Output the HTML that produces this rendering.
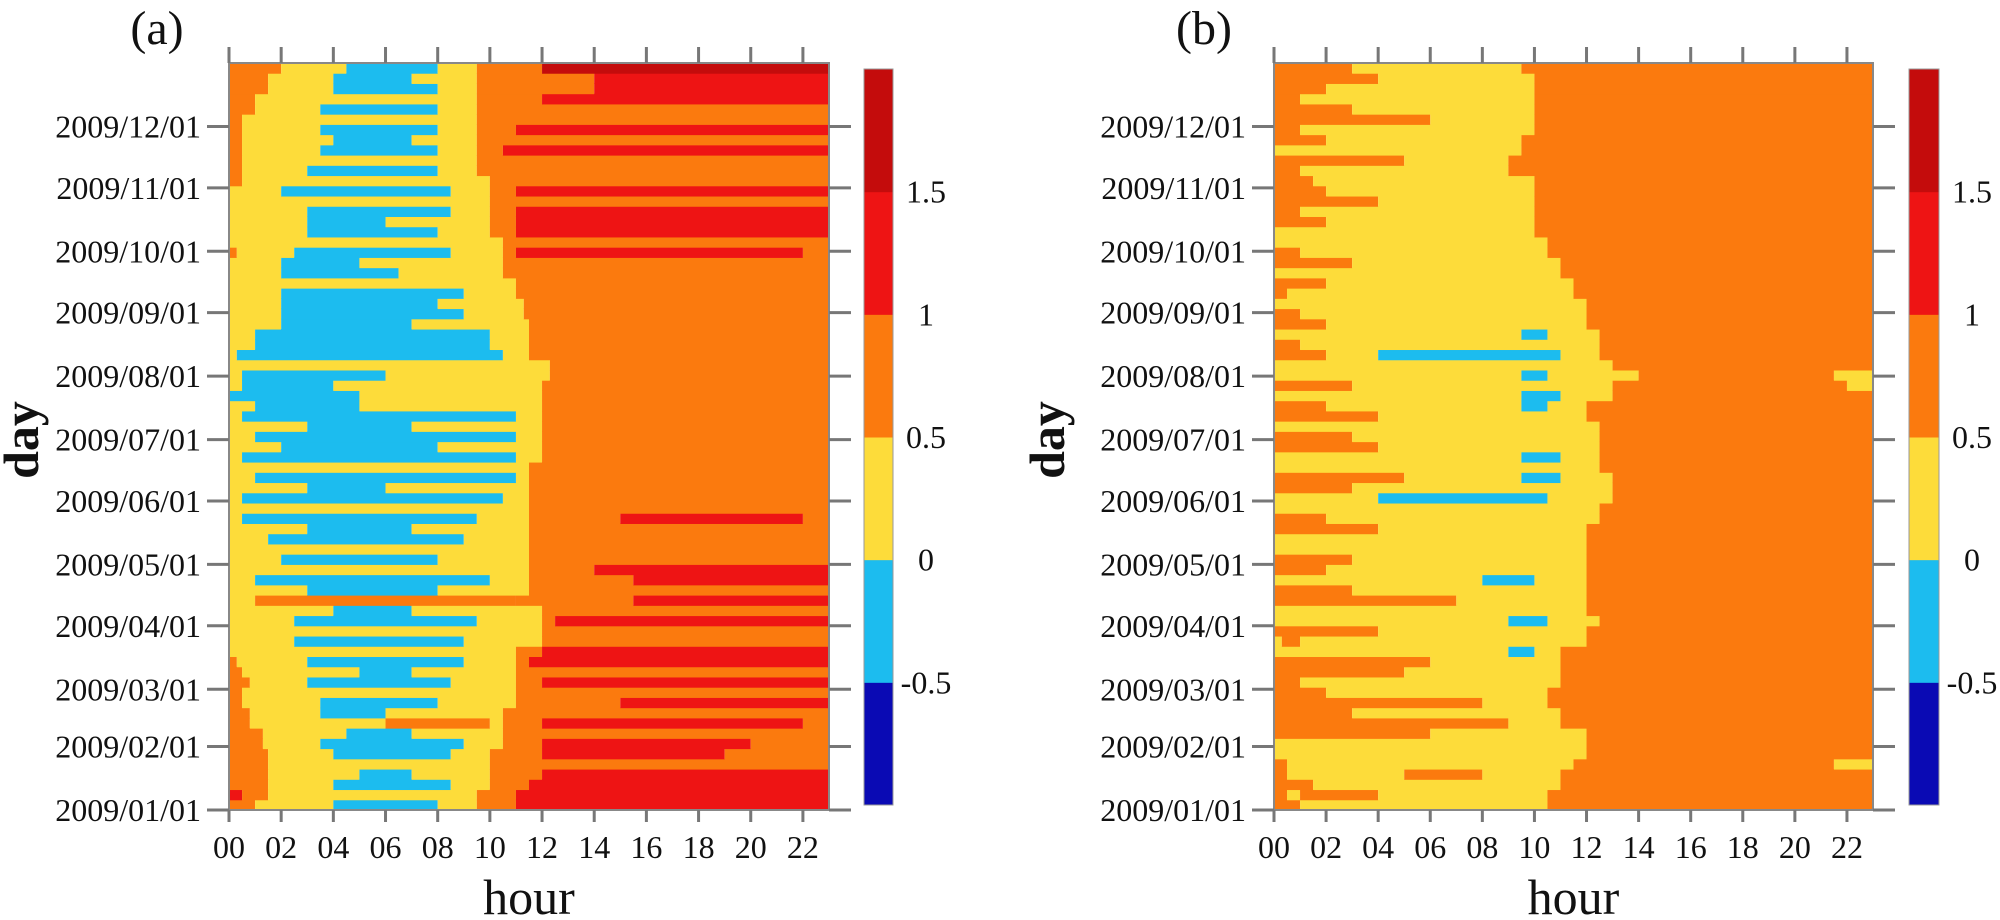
<!DOCTYPE html>
<html><head><meta charset="utf-8"><style>
html,body{margin:0;padding:0;background:#fff;}
svg{display:block;font-family:"Liberation Serif",serif;}
</style></head><body>
<svg id="chart" width="2000" height="920" viewBox="0 0 2000 920"></svg>
<script>
const classColors = ["#0a0ab4","#1cbcef","#fddc3a","#fb7a0e","#ee1414","#c40c0c"];
const levelLabels = ["-0.5","0","0.5","1","1.5"];
const monthLabels = ["2009/01/01","2009/02/01","2009/03/01","2009/04/01","2009/05/01","2009/06/01","2009/07/01","2009/08/01","2009/09/01","2009/10/01","2009/11/01","2009/12/01"];
const monthStartDays = [0,31,59,90,120,151,181,212,243,273,304,334];
const hourLabels = ["00","02","04","06","08","10","12","14","16","18","20","22"];
const rowDays = 5;
// each row: "class:endHour" segments, rows from Jan 1 upward in 5-day bins
const rowsA = [
"3:1,2:4,1:8,2:9.5,3:11,4:23",
"4:0.5,3:1.5,2:9.5,3:11,4:23",
"3:1.5,2:4,1:8.5,2:10,3:11.5,4:23",
"3:1.5,2:5,1:7,2:10,3:12,4:23",
"3:1.5,2:10,3:23",
"3:1.5,2:4,1:8.5,2:10,3:12,4:19,3:23",
"3:1.3,2:3.5,1:9,2:10.5,3:12,4:20,3:23",
"3:1.3,2:4.5,1:7,2:10.5,3:23",
"3:0.8,2:6,3:10,2:10.5,3:12,4:22,3:23",
"3:0.8,2:3.5,1:6,2:10.5,3:23",
"3:0.5,2:3.5,1:8,2:11,3:15,4:23",
"3:0.5,2:11,3:23",
"3:0.8,2:3,1:8.5,2:11,3:12,4:23",
"3:0.5,2:5,1:7,2:11,3:23",
"3:0.3,2:3,1:9,2:11,3:11.5,4:23",
"2:11,3:12,4:23",
"2:2.5,1:9,2:12,3:23",
"2:12,3:23",
"2:2.5,1:9.5,2:12,3:12.5,4:23",
"2:4,1:7,2:12,3:23",
"2:1,3:11,3:15.5,4:23",
"2:3,1:8,2:11.5,3:23",
"2:1,1:10,2:11.5,3:15.5,4:23",
"2:11.5,3:14,4:23",
"2:2,1:8,2:11.5,3:23",
"2:11.5,3:23",
"2:1.5,1:9,2:11.5,3:23",
"2:3,1:7,2:11.5,3:23",
"2:0.5,1:9.5,2:11.5,3:15,4:22,3:23",
"2:11.5,3:23",
"2:0.5,1:10.5,2:11.5,3:23",
"2:3,1:6,2:11.5,3:23",
"2:1,1:11,2:11.5,3:23",
"2:11.5,3:23",
"2:0.5,1:11,2:12,3:23",
"2:2,1:8,2:12,3:23",
"2:1,1:11,2:12,3:23",
"2:3,1:7,2:12,3:23",
"2:0.5,1:11,2:12,3:23",
"2:1,1:5,2:12,3:23",
"1:5,2:12,3:23",
"2:0.5,1:4,2:12,3:23",
"2:0.5,1:6,2:12.3,3:23",
"2:12.3,3:23",
"2:0.3,1:10.5,2:11.5,3:23",
"2:1,1:10,2:11.5,3:23",
"2:1,1:10,2:11.5,3:23",
"2:2,1:7,2:11.5,3:23",
"2:2,1:9,2:11.3,3:23",
"2:2,1:8,2:11.3,3:23",
"2:2,1:9,2:11,3:23",
"2:11,3:23",
"2:2,1:6.5,2:10.5,3:23",
"2:2,1:5,2:10.5,3:23",
"3:0.3,2:2.5,1:8.5,2:10.5,3:11,4:22,3:23",
"2:10.5,3:23",
"2:3,1:8,2:10,3:11,4:23",
"2:3,1:6,2:10,3:11,4:23",
"2:3,1:8.5,2:10,3:11,4:23",
"2:10,3:23",
"2:2,1:8.5,2:10,3:11,4:23",
"3:0.5,2:10,3:23",
"3:0.5,2:3,1:8,2:9.5,3:23",
"3:0.5,2:9.5,3:23",
"3:0.5,2:3.5,1:8,2:9.5,3:10.5,4:23",
"3:0.5,2:4,1:7,2:9.5,3:23",
"3:0.5,2:3.5,1:8,2:9.5,3:11,4:23",
"3:0.5,2:9.5,3:23",
"3:1,2:3.5,1:8,2:9.5,3:23",
"3:1,2:9.5,3:12,4:23",
"3:1.5,2:4,1:8,2:9.5,3:14,4:23",
"3:1.5,2:4,1:7,2:9.5,3:14,4:23",
"3:2,2:4.5,1:8,2:9.5,3:12,5:23"
];
const rowsB = [
"3:1,2:10.5,3:23",
"3:0.5,2:1,3:4,2:10.5,3:23",
"3:1.5,2:11,3:23",
"3:0.5,2:5,3:8,2:11,3:23",
"3:0.5,2:11.5,3:21.5,2:23",
"2:12,3:23",
"2:12,3:23",
"3:6,2:12,3:23",
"3:9,2:11,3:23",
"3:3,2:11,3:23",
"3:8,2:10.5,3:23",
"3:2,2:10.5,3:23",
"3:1,2:11,3:23",
"3:5,2:11,3:23",
"3:6,2:11,3:23",
"2:9,1:10,2:11,3:23",
"2:0.3,3:1,2:12,3:23",
"3:4,2:12,3:23",
"2:9,1:10.5,2:12.5,3:23",
"2:12,3:23",
"3:7,2:12,3:23",
"3:3,2:12,3:23",
"2:8,1:10,2:12,3:23",
"3:2,2:12,3:23",
"3:3,2:12,3:23",
"2:12,3:23",
"2:12,3:23",
"3:4,2:12,3:23",
"3:2,2:12.5,3:23",
"2:12.5,3:23",
"2:4,1:10.5,2:13,3:23",
"3:3,2:13,3:23",
"3:5,2:9.5,1:11,2:13,3:23",
"2:12.5,3:23",
"2:9.5,1:11,2:12.5,3:23",
"3:4,2:12.5,3:23",
"3:3,2:12.5,3:23",
"2:12.5,3:23",
"3:4,2:12,3:23",
"3:2,2:9.5,1:10.5,2:12,3:23",
"2:9.5,1:11,2:13,3:23",
"3:3,2:13,3:22,2:23",
"2:9.5,1:10.5,2:14,3:21.5,2:23",
"2:13,3:23",
"3:2,2:4,1:11,2:12.5,3:23",
"3:1,2:12.5,3:23",
"2:9.5,1:10.5,2:12.5,3:23",
"3:2,2:12,3:23",
"3:1,2:12,3:23",
"2:12,3:23",
"3:0.5,2:11.5,3:23",
"3:2,2:11.5,3:23",
"2:11,3:23",
"3:3,2:11,3:23",
"3:1,2:10.5,3:23",
"2:10.5,3:23",
"2:10,3:23",
"3:2,2:10,3:23",
"3:1,2:10,3:23",
"3:4,2:10,3:23",
"3:2,2:10,3:23",
"3:1.5,2:10,3:23",
"3:1,2:9,3:23",
"3:5,2:9,3:23",
"2:9.5,3:23",
"3:2,2:9.5,3:23",
"3:1,2:10,3:23",
"3:6,2:10,3:23",
"3:3,2:10,3:23",
"3:1,2:10,3:23",
"3:2,2:10,3:23",
"3:4,2:10,3:23",
"3:3,2:9.5,3:23"
];

const NS = "http://www.w3.org/2000/svg";
const svg = document.getElementById("chart");
function mk(tag, attrs, parent){const e=document.createElementNS(NS,tag);for(const k in attrs)e.setAttribute(k,attrs[k]);(parent||svg).appendChild(e);return e;}

function drawPanel(p){
  const g = mk("g",{});
  
  
  const L=p.left,R=p.right,T=63,B=810;
  const xs = h => L + h*(R-L)/23;
  const ys = d => B - d*(B-T)/365;
  p.rows.forEach((row,i)=>{
    const d0=i*rowDays, d1=Math.min(365,(i+1)*rowDays);
    let h0=0;
    row.split(",").forEach(seg=>{
      const [c,h]=seg.split(":").map(Number);
      const r = mk("rect",{x:xs(h0),y:ys(d1),width:Math.max(0,xs(h)-xs(h0)),height:ys(d0)-ys(d1)+0.5,fill:classColors[c]},g);
      
      
      h0=h;
    });
  });
  const frame = mk("rect",{x:L,y:T,width:R-L,height:B-T,fill:"none",stroke:"#888","stroke-width":2},g);
  
  
  monthStartDays.forEach((d,i)=>{
    const y=ys(d);
    mk("line",{x1:L-22,x2:L,y1:y,y2:y,stroke:"#777","stroke-width":3},g);
    mk("line",{x1:R,x2:R+22,y1:y,y2:y,stroke:"#777","stroke-width":3},g);
    const t=mk("text",{x:L-28,y:y+11,"text-anchor":"end","font-size":32,fill:"#111"},g);
    t.textContent=monthLabels[i];
    
    
  });
  hourLabels.forEach((lab,i)=>{
    const x=xs(i*2);
    mk("line",{x1:x,x2:x,y1:T-16,y2:T,stroke:"#777","stroke-width":3},g);
    mk("line",{x1:x,x2:x,y1:B,y2:B+12,stroke:"#777","stroke-width":3},g);
    const t=mk("text",{x:x,y:858,"text-anchor":"middle","font-size":32,fill:"#111"},g);
    t.textContent=lab;
    
    
  });
  const xt=mk("text",{x:(L+R)/2,y:914,"text-anchor":"middle","font-size":50,fill:"#111"},g);
  xt.textContent="hour";
  
  
  const yt=mk("text",{x:0,y:0,"text-anchor":"middle","font-size":50,"font-weight":"bold",fill:"#111",transform:`translate(${p.dayX},440) rotate(-90)`},g);
  yt.textContent="day";
  
  
  const pt=mk("text",{x:p.tagX,y:44,"text-anchor":"middle","font-size":48,fill:"#111"},g);
  pt.textContent=p.tag;
  
  
  const cb=mk("g",{},g);
  
  
  const cT=69,cB=805,n=classColors.length,bh=(cB-cT)/n;
  classColors.forEach((c,i)=>{
    const r=mk("rect",{x:p.cbX,y:cB-(i+1)*bh,width:p.cbW,height:bh+0.5,fill:c},cb);
    
    
  });
  mk("rect",{x:p.cbX,y:cT,width:p.cbW,height:cB-cT,fill:"none",stroke:"#999","stroke-width":1},cb);
  levelLabels.forEach((lab,i)=>{
    const t=mk("text",{x:p.cbLabX,y:cB-(i+1)*bh+11,"text-anchor":"middle","font-size":32,fill:"#111"},cb);
    t.textContent=lab;
    
    
  });
}
drawPanel({name:"panel-a",tag:"(a)",rows:rowsA,left:229,right:829,cbX:864,cbW:29,cbLabX:926,dayX:38,tagX:157});
drawPanel({name:"panel-b",tag:"(b)",rows:rowsB,left:1274,right:1873,cbX:1909,cbW:30,cbLabX:1972,dayX:1064,tagX:1204});
</script>
</body></html>
